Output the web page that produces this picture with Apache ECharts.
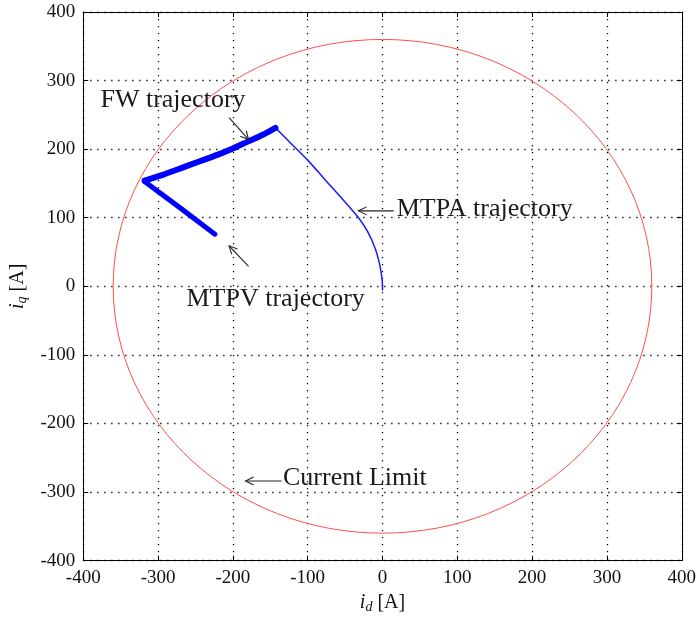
<!DOCTYPE html>
<html>
<head>
<meta charset="utf-8">
<script src="https://cdn.jsdelivr.net/npm/echarts@6/dist/echarts.min.js"></script>
<style>
  html, body { margin: 0; padding: 0; background: #fff; }
  #chart { width: 699px; height: 619px; }
</style>
</head>
<body>
<div id="chart"></div>
<script>
// Axis ticks (A)
const idTicks = [-400, -300, -200, -100, 0, 100, 200, 300, 400];
const iqTicks = [-400, -300, -200, -100, 0, 100, 200, 300, 400];

// MTPA trajectory: i_d, i_q (A)
const idMtpa = [0, 0, -1, -4, -10, -20, -32, -55, -78, -100, -122, -143];
const iqMtpa = [-6, 0, 14, 33, 56, 80, 100, 129, 157, 184, 208, 231];

// Field-weakening trajectory
const idFw = [-143, -160, -180, -200, -220, -245, -270, -295, -318];
const iqFw = [231, 221, 211, 201, 192, 182, 172, 162, 154];

// MTPV trajectory
const idMtpv = [-318, -270, -224];
const iqMtpv = [153, 114, 76];

// Current limit circle radius (A)
const currentLimit = [360];

// Annotations: label text, label anchor and arrow end points, in (i_d, i_q)
const noteText = ['FW trajectory', 'MTPA trajectory', 'MTPV trajectory', 'Current Limit'];
const noteAt = [[-377, 272], [19, 113], [-262, -19], [-133, -280]];
const arrowFrom = [[-205, 246], [15, 110], [-179, 29], [-135, -284]];
const arrowTo = [[-179, 214], [-32, 110], [-205, 59], [-183, -284]];

const pairs = (xs, ys) => xs.map((x, i) => [x, ys[i]]);

const FONT = 'Liberation Serif';
const chart = echarts.init(document.getElementById('chart'), null, { renderer: 'canvas' });

const gridLine = { show: true, lineStyle: { color: '#000', width: 1.3, type: [1.3, 5.7] } };
function axisBase(extra) {
  return Object.assign({
    type: 'value', min: -400, max: 400, interval: 100,
    axisLine: { show: true, onZero: false, lineStyle: { color: '#000', width: 1 } },
    axisTick: { show: true, inside: true, length: 5, lineStyle: { color: '#000' } },
    splitLine: { show: false },
    axisLabel: { show: false }
  }, extra);
}

const nameRich = {
  i: { fontFamily: FONT, fontStyle: 'italic', fontSize: 20, color: '#111' },
  sub: { fontFamily: FONT, fontStyle: 'italic', fontSize: 14, color: '#111', padding: [9, 0, 0, 0] },
  t: { fontFamily: FONT, fontSize: 20, color: '#111' }
};

const option = {
  animation: false,
  grid: { left: 80, right: 15, top: 12, bottom: 55, containLabel: false },
  xAxis: [
    axisBase({
      position: 'bottom',
      splitLine: gridLine,
      axisLabel: { show: true, margin: 8, color: '#111', fontFamily: FONT, fontSize: 19,
        customValues: idTicks },
      name: '{i|i}{sub|d}{t| [A]}',
      nameLocation: 'middle', nameGap: 30,
      nameTextStyle: { rich: nameRich }
    }),
    axisBase({ position: 'top' })
  ],
  yAxis: [
    axisBase({
      position: 'left',
      splitLine: gridLine,
      axisLabel: { show: true, margin: 8, color: '#111', fontFamily: FONT, fontSize: 19,
        customValues: iqTicks },
      name: '{i|i}{sub|q}{t| [A]}',
      nameLocation: 'middle', nameGap: 52,
      nameTextStyle: { rich: nameRich }
    }),
    axisBase({ position: 'right' })
  ],
  series: [
    {
      // current limit circle, drawn through the axis scales
      type: 'custom', name: 'Current Limit', silent: true,
      data: currentLimit.map(r => [0, 0, r]),
      renderItem: function (params, api) {
        const r = api.value(2);
        const c = api.coord([api.value(0), api.value(1)]);
        const ex = api.coord([r, 0]);
        const ey = api.coord([0, r]);
        return {
          type: 'ellipse',
          shape: { cx: c[0], cy: c[1], rx: ex[0] - c[0], ry: c[1] - ey[1] },
          style: { fill: 'none', stroke: '#ff4d4d', lineWidth: 1 }
        };
      },
      z: 3
    },
    {
      type: 'line', name: 'MTPA', data: pairs(idMtpa, iqMtpa),
      showSymbol: false, smooth: 0.3,
      lineStyle: { color: '#1a1aff', width: 1.5, join: 'round' }, z: 4
    },
    {
      type: 'line', name: 'FW', data: pairs(idFw, iqFw),
      showSymbol: false, smooth: 0.3,
      lineStyle: { color: '#0000ff', width: 6, join: 'round', cap: 'round' }, z: 5
    },
    {
      type: 'line', name: 'MTPV', data: pairs(idMtpv, iqMtpv),
      showSymbol: false,
      lineStyle: { color: '#0000ff', width: 5, join: 'round', cap: 'round' }, z: 5
    },
    {
      // text labels with pointing arrows
      type: 'custom', name: 'notes', silent: true, clip: false,
      data: noteText.map((t, i) => [noteAt[i][0], noteAt[i][1],
        arrowFrom[i][0], arrowFrom[i][1], arrowTo[i][0], arrowTo[i][1]]),
      renderItem: function (params, api) {
        const i = params.dataIndex;
        const p = api.coord([api.value(0), api.value(1)]);
        const a = api.coord([api.value(2), api.value(3)]);
        const b = api.coord([api.value(4), api.value(5)]);
        const dx = b[0] - a[0], dy = b[1] - a[1];
        const len = Math.sqrt(dx * dx + dy * dy);
        const ux = dx / len, uy = dy / len;
        const hl = 8, hw = 4;
        const h1 = [b[0] - ux * hl - uy * hw, b[1] - uy * hl + ux * hw];
        const h2 = [b[0] - ux * hl + uy * hw, b[1] - uy * hl - ux * hw];
        const stroke = '#222';
        return {
          type: 'group',
          children: [
            {
              type: 'text',
              style: {
                text: noteText[i], x: p[0], y: p[1],
                fontFamily: FONT, fontSize: 26, fill: '#1a1a1a',
                align: 'left', verticalAlign: 'middle'
              }
            },
            {
              type: 'line',
              shape: { x1: a[0], y1: a[1], x2: b[0], y2: b[1] },
              style: { stroke: stroke, lineWidth: 1.1 }
            },
            {
              type: 'polyline',
              shape: { points: [h1, b, h2] },
              style: { stroke: stroke, lineWidth: 1.1, fill: 'none' }
            }
          ]
        };
      },
      z: 6
    }
  ]
};

chart.setOption(option);
</script>
</body>
</html>
